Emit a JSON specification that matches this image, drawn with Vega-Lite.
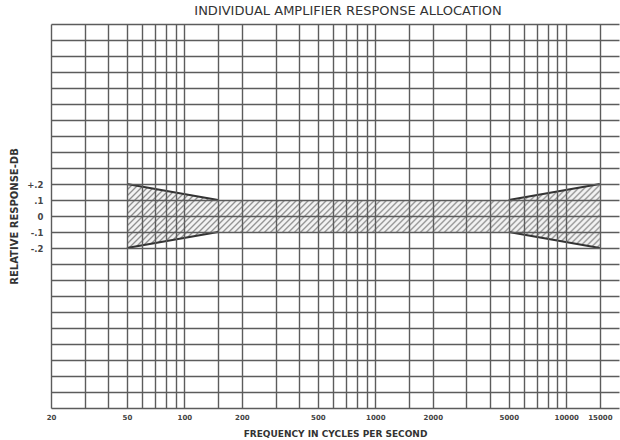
{
  "$schema": "https://vega.github.io/schema/vega-lite/v6.json",
  "width": 568,
  "height": 384,
  "autosize": {"type": "none"},
  "padding": {"left": 51, "top": 24, "right": 1, "bottom": 32},
  "background": "white",
  "view": {"stroke": null},
  "config": {"font": "DejaVu Sans"},
  "title": {"text": "INDIVIDUAL AMPLIFIER RESPONSE ALLOCATION", "fontSize": 13, "fontWeight": "normal", "color": "#333333", "offset": 2, "dx": 13, "anchor": "middle"},
  "datasets": {
    "band": [
      {"f": 50, "hi": 0.2, "lo": -0.2},
      {"f": 150, "hi": 0.1, "lo": -0.1},
      {"f": 5000, "hi": 0.1, "lo": -0.1},
      {"f": 15000, "hi": 0.2, "lo": -0.2}
    ],
    "edges": [
      {"seg": "LT", "f": 50, "hi": 0.2}, {"seg": "LT", "f": 150, "hi": 0.1},
      {"seg": "LB", "f": 50, "hi": -0.2}, {"seg": "LB", "f": 150, "hi": -0.1},
      {"seg": "RT", "f": 5000, "hi": 0.1}, {"seg": "RT", "f": 15000, "hi": 0.2},
      {"seg": "RB", "f": 5000, "hi": -0.1}, {"seg": "RB", "f": 15000, "hi": -0.2}
    ]
  },
  "encoding": {
    "x": {
      "field": "f", "type": "quantitative",
      "scale": {"type": "log", "domain": [20, 18900], "nice": false},
      "axis": {
        "values": [20,30,40,50,60,70,80,90,100,150,200,300,400,500,600,700,800,900,1000,1500,2000,3000,4000,5000,6000,7000,8000,9000,10000,15000],
        "labelExpr": "indexof([20,50,100,200,500,1000,2000,5000,10000,15000], datum.value) >= 0 ? format(datum.value, 'd') : ''",
        "grid": true, "gridColor": "#5c5c5c", "gridWidth": 1.4, "gridOpacity": 1,
        "domain": false, "ticks": false, "zindex": 1,
        "labelFontSize": 7, "labelFontWeight": "bold", "labelColor": "#444444", "labelPadding": 5,
        "labelFlush": false, "labelOverlap": false,
        "title": "FREQUENCY IN CYCLES PER SECOND", "titleFontSize": 9, "titleFontWeight": "bold", "titleColor": "#333333", "titlePadding": 9
      }
    },
    "y": {
      "field": "hi", "type": "quantitative",
      "scale": {"domain": [-1.2, 1.2], "nice": false, "zero": false},
      "axis": {
        "values": [-1.2,-1.1,-1.0,-0.9,-0.8,-0.7,-0.6,-0.5,-0.4,-0.3,-0.2,-0.1,0,0.1,0.2,0.3,0.4,0.5,0.6,0.7,0.8,0.9,1.0,1.1,1.2],
        "labelExpr": "abs(datum.value-0.2)<0.01 ? '+.2' : abs(datum.value-0.1)<0.01 ? '.1' : abs(datum.value)<0.01 ? '0' : abs(datum.value+0.1)<0.01 ? '-.1' : abs(datum.value+0.2)<0.01 ? '-.2' : ''",
        "grid": true, "gridColor": "#5c5c5c", "gridWidth": 1.4, "gridOpacity": 1,
        "domain": false, "ticks": false, "zindex": 1,
        "labelFontSize": 8.5, "labelFontWeight": "bold", "labelColor": "#444444", "labelPadding": 8,
        "labelFlush": false, "labelOverlap": false,
        "title": "RELATIVE RESPONSE-DB", "titleFontSize": 10, "titleFontWeight": "bold", "titleColor": "#333333",
        "titleX": -37, "titleY": 192, "titleAngle": -90, "titleAlign": "center", "titleBaseline": "middle"
      }
    }
  },
  "layer": [
    {
      "data": {"name": "band"},
      "mark": {"type": "area", "stroke": null, "color": {
        "gradient": "linear", "x1": 0, "y1": 0, "x2": 1.245, "y2": 0.1685,
        "stops": [
{"offset":0,"color":"#8c8c8c"},{"offset":0.003,"color":"#f2f2f2"},{"offset":0.007,"color":"#f2f2f2"},
{"offset":0.01,"color":"#8c8c8c"},{"offset":0.013,"color":"#f2f2f2"},{"offset":0.017,"color":"#f2f2f2"},
{"offset":0.02,"color":"#8c8c8c"},{"offset":0.023,"color":"#f2f2f2"},{"offset":0.027,"color":"#f2f2f2"},
{"offset":0.03,"color":"#8c8c8c"},{"offset":0.033,"color":"#f2f2f2"},{"offset":0.037,"color":"#f2f2f2"},
{"offset":0.04,"color":"#8c8c8c"},{"offset":0.043,"color":"#f2f2f2"},{"offset":0.047,"color":"#f2f2f2"},
{"offset":0.05,"color":"#8c8c8c"},{"offset":0.053,"color":"#f2f2f2"},{"offset":0.057,"color":"#f2f2f2"},
{"offset":0.06,"color":"#8c8c8c"},{"offset":0.063,"color":"#f2f2f2"},{"offset":0.067,"color":"#f2f2f2"},
{"offset":0.07,"color":"#8c8c8c"},{"offset":0.073,"color":"#f2f2f2"},{"offset":0.077,"color":"#f2f2f2"},
{"offset":0.08,"color":"#8c8c8c"},{"offset":0.083,"color":"#f2f2f2"},{"offset":0.087,"color":"#f2f2f2"},
{"offset":0.09,"color":"#8c8c8c"},{"offset":0.093,"color":"#f2f2f2"},{"offset":0.097,"color":"#f2f2f2"},
{"offset":0.1,"color":"#8c8c8c"},{"offset":0.103,"color":"#f2f2f2"},{"offset":0.107,"color":"#f2f2f2"},
{"offset":0.11,"color":"#8c8c8c"},{"offset":0.113,"color":"#f2f2f2"},{"offset":0.117,"color":"#f2f2f2"},
{"offset":0.12,"color":"#8c8c8c"},{"offset":0.123,"color":"#f2f2f2"},{"offset":0.127,"color":"#f2f2f2"},
{"offset":0.13,"color":"#8c8c8c"},{"offset":0.133,"color":"#f2f2f2"},{"offset":0.137,"color":"#f2f2f2"},
{"offset":0.14,"color":"#8c8c8c"},{"offset":0.143,"color":"#f2f2f2"},{"offset":0.147,"color":"#f2f2f2"},
{"offset":0.15,"color":"#8c8c8c"},{"offset":0.153,"color":"#f2f2f2"},{"offset":0.157,"color":"#f2f2f2"},
{"offset":0.16,"color":"#8c8c8c"},{"offset":0.163,"color":"#f2f2f2"},{"offset":0.167,"color":"#f2f2f2"},
{"offset":0.17,"color":"#8c8c8c"},{"offset":0.173,"color":"#f2f2f2"},{"offset":0.177,"color":"#f2f2f2"},
{"offset":0.18,"color":"#8c8c8c"},{"offset":0.183,"color":"#f2f2f2"},{"offset":0.187,"color":"#f2f2f2"},
{"offset":0.19,"color":"#8c8c8c"},{"offset":0.193,"color":"#f2f2f2"},{"offset":0.197,"color":"#f2f2f2"},
{"offset":0.2,"color":"#8c8c8c"},{"offset":0.203,"color":"#f2f2f2"},{"offset":0.207,"color":"#f2f2f2"},
{"offset":0.21,"color":"#8c8c8c"},{"offset":0.213,"color":"#f2f2f2"},{"offset":0.217,"color":"#f2f2f2"},
{"offset":0.22,"color":"#8c8c8c"},{"offset":0.223,"color":"#f2f2f2"},{"offset":0.227,"color":"#f2f2f2"},
{"offset":0.23,"color":"#8c8c8c"},{"offset":0.233,"color":"#f2f2f2"},{"offset":0.237,"color":"#f2f2f2"},
{"offset":0.24,"color":"#8c8c8c"},{"offset":0.243,"color":"#f2f2f2"},{"offset":0.247,"color":"#f2f2f2"},
{"offset":0.25,"color":"#8c8c8c"},{"offset":0.253,"color":"#f2f2f2"},{"offset":0.257,"color":"#f2f2f2"},
{"offset":0.26,"color":"#8c8c8c"},{"offset":0.263,"color":"#f2f2f2"},{"offset":0.267,"color":"#f2f2f2"},
{"offset":0.27,"color":"#8c8c8c"},{"offset":0.273,"color":"#f2f2f2"},{"offset":0.277,"color":"#f2f2f2"},
{"offset":0.28,"color":"#8c8c8c"},{"offset":0.283,"color":"#f2f2f2"},{"offset":0.287,"color":"#f2f2f2"},
{"offset":0.29,"color":"#8c8c8c"},{"offset":0.293,"color":"#f2f2f2"},{"offset":0.297,"color":"#f2f2f2"},
{"offset":0.3,"color":"#8c8c8c"},{"offset":0.303,"color":"#f2f2f2"},{"offset":0.307,"color":"#f2f2f2"},
{"offset":0.31,"color":"#8c8c8c"},{"offset":0.313,"color":"#f2f2f2"},{"offset":0.317,"color":"#f2f2f2"},
{"offset":0.32,"color":"#8c8c8c"},{"offset":0.323,"color":"#f2f2f2"},{"offset":0.327,"color":"#f2f2f2"},
{"offset":0.33,"color":"#8c8c8c"},{"offset":0.333,"color":"#f2f2f2"},{"offset":0.337,"color":"#f2f2f2"},
{"offset":0.34,"color":"#8c8c8c"},{"offset":0.343,"color":"#f2f2f2"},{"offset":0.347,"color":"#f2f2f2"},
{"offset":0.35,"color":"#8c8c8c"},{"offset":0.353,"color":"#f2f2f2"},{"offset":0.357,"color":"#f2f2f2"},
{"offset":0.36,"color":"#8c8c8c"},{"offset":0.363,"color":"#f2f2f2"},{"offset":0.367,"color":"#f2f2f2"},
{"offset":0.37,"color":"#8c8c8c"},{"offset":0.373,"color":"#f2f2f2"},{"offset":0.377,"color":"#f2f2f2"},
{"offset":0.38,"color":"#8c8c8c"},{"offset":0.383,"color":"#f2f2f2"},{"offset":0.387,"color":"#f2f2f2"},
{"offset":0.39,"color":"#8c8c8c"},{"offset":0.393,"color":"#f2f2f2"},{"offset":0.397,"color":"#f2f2f2"},
{"offset":0.4,"color":"#8c8c8c"},{"offset":0.403,"color":"#f2f2f2"},{"offset":0.407,"color":"#f2f2f2"},
{"offset":0.41,"color":"#8c8c8c"},{"offset":0.413,"color":"#f2f2f2"},{"offset":0.417,"color":"#f2f2f2"},
{"offset":0.42,"color":"#8c8c8c"},{"offset":0.423,"color":"#f2f2f2"},{"offset":0.427,"color":"#f2f2f2"},
{"offset":0.43,"color":"#8c8c8c"},{"offset":0.433,"color":"#f2f2f2"},{"offset":0.437,"color":"#f2f2f2"},
{"offset":0.44,"color":"#8c8c8c"},{"offset":0.443,"color":"#f2f2f2"},{"offset":0.447,"color":"#f2f2f2"},
{"offset":0.45,"color":"#8c8c8c"},{"offset":0.453,"color":"#f2f2f2"},{"offset":0.457,"color":"#f2f2f2"},
{"offset":0.46,"color":"#8c8c8c"},{"offset":0.463,"color":"#f2f2f2"},{"offset":0.467,"color":"#f2f2f2"},
{"offset":0.47,"color":"#8c8c8c"},{"offset":0.473,"color":"#f2f2f2"},{"offset":0.477,"color":"#f2f2f2"},
{"offset":0.48,"color":"#8c8c8c"},{"offset":0.483,"color":"#f2f2f2"},{"offset":0.487,"color":"#f2f2f2"},
{"offset":0.49,"color":"#8c8c8c"},{"offset":0.493,"color":"#f2f2f2"},{"offset":0.497,"color":"#f2f2f2"},
{"offset":0.5,"color":"#8c8c8c"},{"offset":0.503,"color":"#f2f2f2"},{"offset":0.507,"color":"#f2f2f2"},
{"offset":0.51,"color":"#8c8c8c"},{"offset":0.513,"color":"#f2f2f2"},{"offset":0.517,"color":"#f2f2f2"},
{"offset":0.52,"color":"#8c8c8c"},{"offset":0.523,"color":"#f2f2f2"},{"offset":0.527,"color":"#f2f2f2"},
{"offset":0.53,"color":"#8c8c8c"},{"offset":0.533,"color":"#f2f2f2"},{"offset":0.537,"color":"#f2f2f2"},
{"offset":0.54,"color":"#8c8c8c"},{"offset":0.543,"color":"#f2f2f2"},{"offset":0.547,"color":"#f2f2f2"},
{"offset":0.55,"color":"#8c8c8c"},{"offset":0.553,"color":"#f2f2f2"},{"offset":0.557,"color":"#f2f2f2"},
{"offset":0.56,"color":"#8c8c8c"},{"offset":0.563,"color":"#f2f2f2"},{"offset":0.567,"color":"#f2f2f2"},
{"offset":0.57,"color":"#8c8c8c"},{"offset":0.573,"color":"#f2f2f2"},{"offset":0.577,"color":"#f2f2f2"},
{"offset":0.58,"color":"#8c8c8c"},{"offset":0.583,"color":"#f2f2f2"},{"offset":0.587,"color":"#f2f2f2"},
{"offset":0.59,"color":"#8c8c8c"},{"offset":0.593,"color":"#f2f2f2"},{"offset":0.597,"color":"#f2f2f2"},
{"offset":0.6,"color":"#8c8c8c"},{"offset":0.603,"color":"#f2f2f2"},{"offset":0.607,"color":"#f2f2f2"},
{"offset":0.61,"color":"#8c8c8c"},{"offset":0.613,"color":"#f2f2f2"},{"offset":0.617,"color":"#f2f2f2"},
{"offset":0.62,"color":"#8c8c8c"},{"offset":0.623,"color":"#f2f2f2"},{"offset":0.627,"color":"#f2f2f2"},
{"offset":0.63,"color":"#8c8c8c"},{"offset":0.633,"color":"#f2f2f2"},{"offset":0.637,"color":"#f2f2f2"},
{"offset":0.64,"color":"#8c8c8c"},{"offset":0.643,"color":"#f2f2f2"},{"offset":0.647,"color":"#f2f2f2"},
{"offset":0.65,"color":"#8c8c8c"},{"offset":0.653,"color":"#f2f2f2"},{"offset":0.657,"color":"#f2f2f2"},
{"offset":0.66,"color":"#8c8c8c"},{"offset":0.663,"color":"#f2f2f2"},{"offset":0.667,"color":"#f2f2f2"},
{"offset":0.67,"color":"#8c8c8c"},{"offset":0.673,"color":"#f2f2f2"},{"offset":0.677,"color":"#f2f2f2"},
{"offset":0.68,"color":"#8c8c8c"},{"offset":0.683,"color":"#f2f2f2"},{"offset":0.687,"color":"#f2f2f2"},
{"offset":0.69,"color":"#8c8c8c"},{"offset":0.693,"color":"#f2f2f2"},{"offset":0.697,"color":"#f2f2f2"},
{"offset":0.7,"color":"#8c8c8c"},{"offset":0.703,"color":"#f2f2f2"},{"offset":0.707,"color":"#f2f2f2"},
{"offset":0.71,"color":"#8c8c8c"},{"offset":0.713,"color":"#f2f2f2"},{"offset":0.717,"color":"#f2f2f2"},
{"offset":0.72,"color":"#8c8c8c"},{"offset":0.723,"color":"#f2f2f2"},{"offset":0.727,"color":"#f2f2f2"},
{"offset":0.73,"color":"#8c8c8c"},{"offset":0.733,"color":"#f2f2f2"},{"offset":0.737,"color":"#f2f2f2"},
{"offset":0.74,"color":"#8c8c8c"},{"offset":0.743,"color":"#f2f2f2"},{"offset":0.747,"color":"#f2f2f2"},
{"offset":0.75,"color":"#8c8c8c"},{"offset":0.753,"color":"#f2f2f2"},{"offset":0.757,"color":"#f2f2f2"},
{"offset":0.76,"color":"#8c8c8c"},{"offset":0.763,"color":"#f2f2f2"},{"offset":0.767,"color":"#f2f2f2"},
{"offset":0.77,"color":"#8c8c8c"},{"offset":0.773,"color":"#f2f2f2"},{"offset":0.777,"color":"#f2f2f2"},
{"offset":0.78,"color":"#8c8c8c"},{"offset":0.783,"color":"#f2f2f2"},{"offset":0.787,"color":"#f2f2f2"},
{"offset":0.79,"color":"#8c8c8c"},{"offset":0.793,"color":"#f2f2f2"},{"offset":0.797,"color":"#f2f2f2"},
{"offset":0.8,"color":"#8c8c8c"},{"offset":0.803,"color":"#f2f2f2"},{"offset":0.807,"color":"#f2f2f2"},
{"offset":0.81,"color":"#8c8c8c"},{"offset":0.813,"color":"#f2f2f2"},{"offset":0.817,"color":"#f2f2f2"},
{"offset":0.82,"color":"#8c8c8c"},{"offset":0.823,"color":"#f2f2f2"},{"offset":0.827,"color":"#f2f2f2"},
{"offset":0.83,"color":"#8c8c8c"},{"offset":0.833,"color":"#f2f2f2"},{"offset":0.837,"color":"#f2f2f2"},
{"offset":0.84,"color":"#8c8c8c"},{"offset":0.843,"color":"#f2f2f2"},{"offset":0.847,"color":"#f2f2f2"},
{"offset":0.85,"color":"#8c8c8c"},{"offset":0.853,"color":"#f2f2f2"},{"offset":0.857,"color":"#f2f2f2"},
{"offset":0.86,"color":"#8c8c8c"},{"offset":0.863,"color":"#f2f2f2"},{"offset":0.867,"color":"#f2f2f2"},
{"offset":0.87,"color":"#8c8c8c"},{"offset":0.873,"color":"#f2f2f2"},{"offset":0.877,"color":"#f2f2f2"},
{"offset":0.88,"color":"#8c8c8c"},{"offset":0.883,"color":"#f2f2f2"},{"offset":0.887,"color":"#f2f2f2"},
{"offset":0.89,"color":"#8c8c8c"},{"offset":0.893,"color":"#f2f2f2"},{"offset":0.897,"color":"#f2f2f2"},
{"offset":0.9,"color":"#8c8c8c"}
        ]
      }},
      "encoding": {
        "y2": {"field": "lo"}
      }
    },
    {
      "data": {"name": "edges"},
      "mark": {"type": "line", "color": "#333333", "strokeWidth": 2.2},
      "encoding": {
        "detail": {"field": "seg"}
      }
    }
  ]
}
